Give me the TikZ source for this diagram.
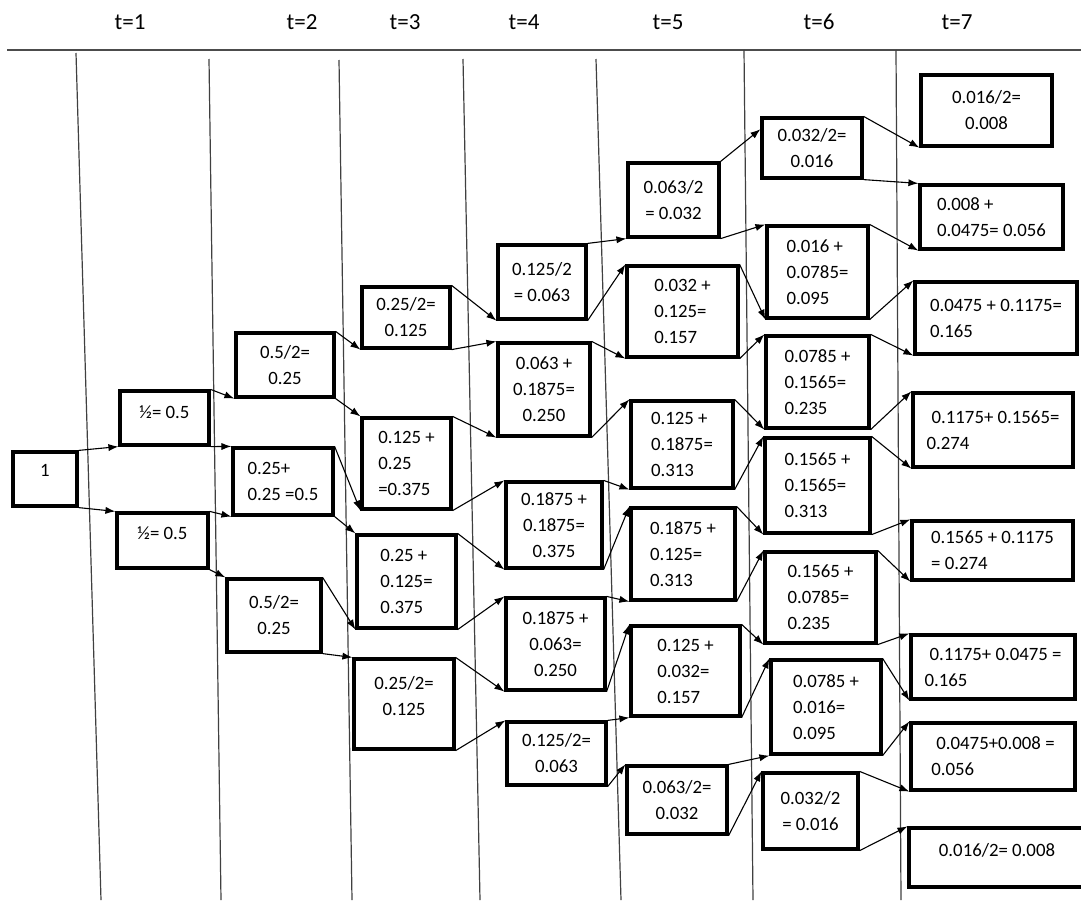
\documentclass[tikz,border=0pt]{standalone}
\usepackage{fontspec}
\setmainfont{Carlito}
\usetikzlibrary{arrows.meta}

\begin{document}
\begin{tikzpicture}[
  x=0.5pt, y=-0.5pt,
  cell/.style={
    draw,
    line width=1.6pt,
    inner sep=2pt,
    align=center,
    font=\fontsize{9.4}{13}\selectfont
  },
  lcell/.style={cell,align=left},
  sz/.style 2 args={minimum width=#1pt,minimum height=#2pt},
  raised/.style={text depth=#1pt},
  link/.style={-{Latex[length=5pt,width=3.6pt]},line width=0.55pt},
  sep/.style={line width=0.6pt,black!75},
  head/.style={font=\fontsize{11.5}{14}\selectfont}
]
\useasboundingbox (0,0) rectangle (1081,900);

% time axis
\node[head] (t1) at (130,22) {t=1};
\node[head] (t2) at (302,22) {t=2};
\node[head] (t3) at (405,22) {t=3};
\node[head] (t4) at (524,22) {t=4};
\node[head] (t5) at (668,22) {t=5};
\node[head] (t6) at (819,22) {t=6};
\node[head] (t7) at (957,22) {t=7};
\draw[line width=0.7pt,black!70] (7,50) -- (1081,50);
\draw[sep] (76,53) -- (101,900);
\draw[sep] (209,59) -- (221,900);
\draw[sep] (339,60) -- (352,900);
\draw[sep] (463,59) -- (480,900);
\draw[sep] (596,59) -- (621,900);
\draw[sep] (744,50) -- (753,900);
\draw[sep] (896,50) -- (901,900);

% t=0 .. t=2
\node[cell,sz={32}{27},raised=9] (n0) at (45,479) {1};
\node[cell,sz={44.5}{27},raised=6] (a1) at (164.5,418) {½= 0.5};
\node[cell,sz={45.5}{27.5},raised=7] (a2) at (162.5,540.5) {½= 0.5};
\node[cell,sz={49}{32}] (b1) at (285,365) {0.5/2=\\0.25};
\node[lcell,sz={50}{33.5}] (b2) at (283,481.5) {0.25+\\0.25 =0.5};
\node[cell,sz={47}{36.5}] (b3) at (274,615.5) {0.5/2=\\0.25};

% t=3
\node[cell,sz={44}{30.5}] (c1) at (406,317.5) {0.25/2=\\0.125};
\node[lcell,sz={44.5}{45.5}] (c2) at (406.5,463.5) {0.125 +\\0.25\\=0.375};
\node[lcell,sz={49.5}{46.5}] (c3) at (406.5,581.5) {0.25 +\\0.125=\\0.375};
\node[cell,sz={50}{45},raised=8] (c4) at (404,704) {0.25/2=\\0.125};

% t=4
\node[cell,sz={44}{37}] (d1) at (542,282) {0.125/2\\= 0.063};
\node[cell,sz={46}{46.5}] (d2) at (544,389.5) {0.063 +\\0.1875=\\0.250};
\node[cell,sz={48}{43}] (d3) at (554,525) {0.1875 +\\0.1875=\\0.375};
\node[cell,sz={49.5}{46}] (d4) at (555.5,644) {0.1875 +\\0.063=\\0.250};
\node[cell,sz={49.5}{31.5}] (d5) at (556.5,753.5) {0.125/2=\\0.063};

% t=5
\node[cell,sz={45.5}{37}] (e1) at (673.5,200) {0.063/2\\= 0.032};
\node[lcell,sz={55.5}{45.5}] (e2) at (682.5,311.5) {0.032 +\\0.125=\\0.157};
\node[lcell,sz={51}{43.5}] (e3) at (682,444.5) {0.125 +\\0.1875=\\0.313};
\node[lcell,sz={52}{46}] (e4) at (683,554) {0.1875 +\\0.125=\\0.313};
\node[lcell,sz={54.5}{45}] (e5) at (685.5,671) {0.125 +\\0.032=\\0.157};
\node[cell,sz={50}{34}] (e6) at (677,800) {0.063/2=\\0.032};

% t=6
\node[cell,sz={50}{30}] (f1) at (812,148) {0.032/2=\\0.016};
\node[lcell,sz={50.5}{46}] (f2) at (817.5,272) {0.016 +\\0.0785=\\0.095};
\node[lcell,sz={51.5}{46}] (f3) at (817.5,382) {0.0785 +\\0.1565=\\0.235};
\node[lcell,sz={52.5}{47.5}] (f4) at (817.5,485.5) {0.1565 +\\0.1565=\\0.313};
\node[lcell,sz={55.5}{45.5}] (f5) at (820.5,597.5) {0.1565 +\\0.0785=\\0.235};
\node[lcell,sz={55}{47}] (f6) at (826,707) {0.0785 +\\0.016=\\0.095};
\node[cell,sz={47.5}{38}] (f7) at (810.5,811) {0.032/2\\= 0.016};

% t=7
\node[cell,sz={65.5}{35.5}] (g1) at (986.5,110.5) {0.016/2=\\0.008};
\node[lcell,sz={71.5}{32}] (g2) at (991.5,217) {0.008 +\\0.0475= 0.056};
\node[lcell,sz={81}{36}] (g3) at (996,318) {0.0475 + 0.1175=\\0.165};
\node[lcell,sz={80}{37}] (g4) at (993,430) {\hspace*{2.5pt}0.1175+ 0.1565=\\0.274};
\node[lcell,sz={80.5}{29.5}] (g5) at (992.5,550.5) {0.1565 + 0.1175\\= 0.274};
\node[lcell,sz={82}{32}] (g6) at (993,667) {\hspace*{2.5pt}0.1175+ 0.0475 =\\0.165};
\node[lcell,sz={82}{33.5}] (g7) at (993,756.5) {\hspace*{2.5pt}0.0475+0.008 =\\0.056};
\node[cell,sz={88}{29.5},raised=7.5] (g8) at (997,857.5) {0.016/2= 0.008};

% each value splits up and down
\draw[link] (n0.north east) -- (a1.south west);
\draw[link] (n0.south east) -- (a2.north west);
\draw[link] (a1.north east) -- (b1.south west);
\draw[link] (a1.south east) -- (b2.north west);
\draw[link] (a2.north east) -- (b2.south west);
\draw[link] (a2.south east) -- (b3.north west);
\draw[link] (b1.north east) -- (c1.south west);
\draw[link] (b1.south east) -- (c2.north west);
\draw[link] (b2.north east) -- (c2.south west);
\draw[link] (b2.south east) -- (c3.north west);
\draw[link] (b3.north east) -- (c3.south west);
\draw[link] (b3.south east) -- (c4.north west);
\draw[link] (c1.north east) -- (d1.south west);
\draw[link] (c1.south east) -- (d2.north west);
\draw[link] (c2.north east) -- (d2.south west);
\draw[link] (c2.south east) -- (d3.north west);
\draw[link] (c3.north east) -- (d3.south west);
\draw[link] (c3.south east) -- (d4.north west);
\draw[link] (c4.north east) -- (d4.south west);
\draw[link] (c4.south east) -- (d5.north west);
\draw[link] (d1.north east) -- (e1.south west);
\draw[link] (d1.south east) -- (e2.north west);
\draw[link] (d2.north east) -- (e2.south west);
\draw[link] (d2.south east) -- (e3.north west);
\draw[link] (d3.north east) -- (e3.south west);
\draw[link] (d3.south east) -- (e4.north west);
\draw[link] (d4.north east) -- (e4.south west);
\draw[link] (d4.south east) -- (e5.north west);
\draw[link] (d5.north east) -- (e5.south west);
\draw[link] (d5.south east) -- (e6.north west);
\draw[link] (e1.north east) -- (f1.160);
\draw[link] (e1.south east) -- (f2.north west);
\draw[link] (e2.north east) -- (f2.south west);
\draw[link] (e2.south east) -- (f3.north west);
\draw[link] (e3.north east) -- (f3.south west);
\draw[link] (e3.south east) -- (f4.north west);
\draw[link] (e4.north east) -- (f4.south west);
\draw[link] (e4.south east) -- (f5.north west);
\draw[link] (e5.north east) -- (f5.south west);
\draw[link] (e5.south east) -- (f6.north west);
\draw[link] (e6.north east) -- (f6.south west);
\draw[link] (e6.south east) -- (f7.north west);
\draw[link] (f1.north east) -- (g1.south west);
\draw[link] (f1.south east) -- (g2.north west);
\draw[link] (f2.north east) -- (g2.south west);
\draw[link] (f2.south east) -- (g3.north west);
\draw[link] (f3.north east) -- (g3.south west);
\draw[link] (f3.south east) -- (g4.north west);
\draw[link] (f4.north east) -- (g4.south west);
\draw[link] (f4.south east) -- (g5.north west);
\draw[link] (f5.north east) -- (g5.south west);
\draw[link] (f5.south east) -- (g6.north west);
\draw[link] (f6.north east) -- (g6.south west);
\draw[link] (f6.south east) -- (g7.north west);
\draw[link] (f7.north east) -- (g7.south west);
\draw[link] (f7.south east) -- (g8.north west);
\end{tikzpicture}
\end{document}
